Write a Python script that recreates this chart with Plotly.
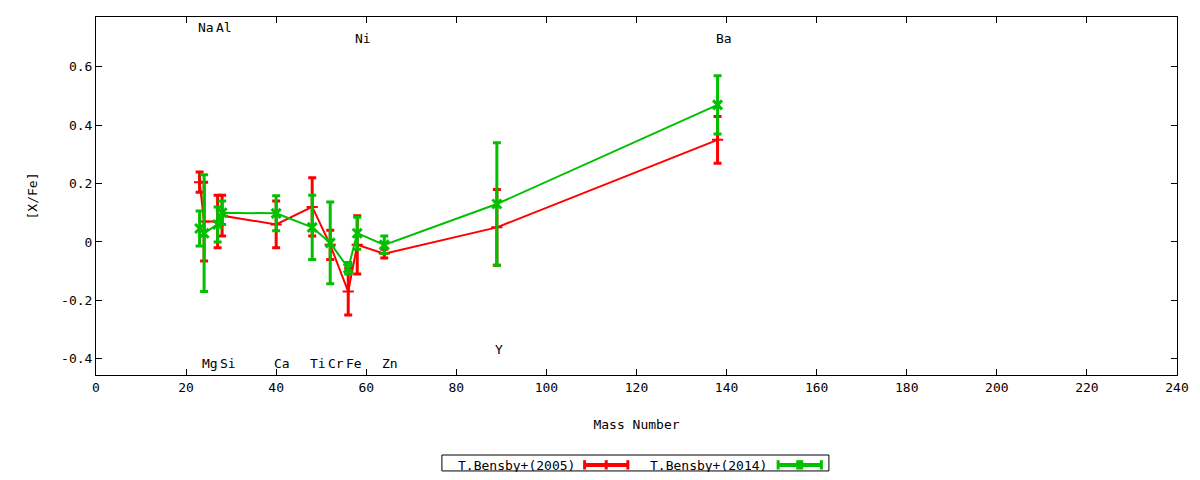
import plotly.graph_objects as go

# element mass numbers (x) and [X/Fe] abundances
elements = ["Na", "Mg", "Al", "Si", "Ca", "Ti", "Cr", "Fe", "Ni", "Zn", "Y", "Ba"]
mass = [23, 24, 27, 28, 40, 48, 52, 56, 58, 64, 89, 138]

bensby2005 = [0.205, 0.07, 0.07, 0.09, 0.06, 0.12, -0.01, -0.17, -0.01, -0.04, 0.05, 0.35]
bensby2005_err = [0.035, 0.135, 0.09, 0.07, 0.08, 0.10, 0.05, 0.08, 0.10, 0.015, 0.13, 0.08]

bensby2014 = [0.046, 0.03, 0.06, 0.10, 0.098, 0.05, -0.003, -0.09, 0.03, -0.01, 0.13, 0.47]
bensby2014_err = [0.06, 0.20, 0.06, 0.04, 0.06, 0.11, 0.14, 0.02, 0.055, 0.03, 0.21, 0.10]

# element labels written on the plot
label_names = ["Na", "Al", "Ni", "Ba", "Mg", "Si", "Ca", "Ti", "Cr", "Fe", "Zn", "Y"]
label_mass = [23, 27, 58, 138, 24, 28, 40, 48, 52, 56, 64, 89]
label_y = [0.734, 0.734, 0.699, 0.699, -0.415, -0.415, -0.415, -0.415, -0.415, -0.415, -0.415, -0.367]

y_ticks = [-0.4, -0.2, 0, 0.2, 0.4, 0.6]
y_ticktext = ["-0.4", "-0.2", "0", "0.2", "0.4", "0.6"]

RED = "#ff0000"
GREEN = "#00c000"
FONT = "DejaVu Sans Mono"
FSIZE = 13

fig = go.Figure()

fig.add_trace(go.Scatter(
    x=mass, y=bensby2005, mode="lines+markers", name="T.Bensby+(2005)",
    line=dict(color=RED, width=2),
    marker=dict(symbol="cross-thin", size=8, color=RED, line=dict(color=RED, width=2)),
    error_y=dict(type="data", array=bensby2005_err, color=RED, thickness=3, width=4),
))

fig.add_trace(go.Scatter(
    x=mass, y=bensby2014, mode="lines+markers", name="T.Bensby+(2014)",
    line=dict(color=GREEN, width=2),
    marker=dict(symbol="x-thin", size=9, color=GREEN, line=dict(color=GREEN, width=3)),
    error_y=dict(type="data", array=bensby2014_err, color=GREEN, thickness=3, width=4),
))

for name, m, yv in zip(label_names, label_mass, label_y):
    fig.add_annotation(x=m, y=yv, text=name, showarrow=False,
                       xanchor="left", yanchor="middle", xshift=-4,
                       font=dict(family=FONT, size=FSIZE, color="black"))

# hand-made legend box in gnuplot style (text left of the sample)
LEG_Y = -0.2514
fig.add_shape(type="rect", xref="paper", yref="paper",
              x0=0.320, x1=0.678, y0=-0.268, y1=-0.2235,
              line=dict(color="black", width=1))
for txt, xr, x0, x1, col, mid_w in [
    ("T.Bensby+(2005)", 0.445, 0.452, 0.492, RED, 3),
    ("T.Bensby+(2014)", 0.623, 0.631, 0.671, GREEN, 7),
]:
    fig.add_annotation(x=xr, y=LEG_Y, xref="paper", yref="paper", text=txt,
                       showarrow=False, xanchor="right", yanchor="middle",
                       font=dict(family=FONT, size=FSIZE, color="black"))
    fig.add_shape(type="line", xref="paper", yref="paper",
                  x0=x0, x1=x1, y0=LEG_Y, y1=LEG_Y,
                  line=dict(color=col, width=4))
    for xe, w in ((x0, 3), (x1, 3), ((x0 + x1) / 2, mid_w)):
        fig.add_shape(type="line", xref="paper", yref="paper",
                      x0=xe, x1=xe, y0=-0.238, y1=-0.264,
                      line=dict(color=col, width=w))

axis_common = dict(
    showgrid=False, zeroline=False, showline=True, linecolor="black", linewidth=1,
    mirror="ticks", ticks="inside", ticklen=6, tickcolor="black", automargin=False,
    tickfont=dict(family=FONT, size=FSIZE, color="black"),
)

# page body has an 8px margin, so the figure is sized to fit inside it
fig.update_layout(
    width=1184, height=464,
    paper_bgcolor="white", plot_bgcolor="white",
    margin=dict(l=88, r=15, t=9, b=97),
    showlegend=False,
    font=dict(family=FONT, size=FSIZE, color="black"),
    xaxis=dict(range=[0, 240], dtick=20, tick0=0,
               title=dict(text="Mass Number", font=dict(family=FONT, size=FSIZE), standoff=26),
               **axis_common),
    yaxis=dict(range=[-0.456, 0.771], tickvals=y_ticks, ticktext=y_ticktext,
               title=dict(text="[X/Fe]", font=dict(family=FONT, size=FSIZE), standoff=20),
               **axis_common),
)

fig.write_html("out.html")
